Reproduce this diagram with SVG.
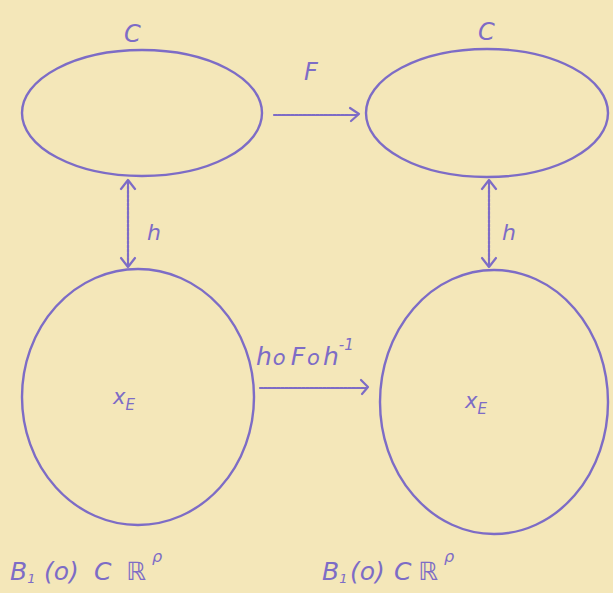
<svg xmlns="http://www.w3.org/2000/svg" width="613" height="593" viewBox="0 0 613 593">
<style>
.s{fill:none;stroke:#7d6cc6;stroke-width:2.4;stroke-linecap:round;stroke-linejoin:round}
.a{fill:none;stroke:#7d6cc6;stroke-width:2.2;stroke-dasharray:3 1.2;stroke-linecap:round}
.h{fill:none;stroke:#7d6cc6;stroke-width:2.2;stroke-linecap:round;stroke-linejoin:round}
text{fill:#7d6cc6;font-family:"DejaVu Sans",sans-serif;font-style:italic}
</style>
<rect width="613" height="593" fill="#f4e7b9"/>
<g id="C1"><ellipse class="s" cx="142" cy="113" rx="120" ry="63"/><text x="124" y="42" font-size="24">C</text></g>
<g id="C2"><ellipse class="s" cx="487" cy="113" rx="121" ry="64"/><text x="478" y="40" font-size="24">C</text></g>
<g id="B1"><ellipse class="s" cx="138" cy="397" rx="116" ry="128"/><text x="113" y="404" font-size="21">x<tspan font-size="15" dy="6">E</tspan></text></g>
<g id="B2"><ellipse class="s" cx="494" cy="402" rx="114" ry="132"/><text x="465" y="408" font-size="21">x<tspan font-size="15" dy="6">E</tspan></text></g>
<g id="connectors">
<line class="a" x1="274" y1="115" x2="358" y2="115"/><path class="h" d="M350 108 L359 114 L351 121"/>
<text x="304" y="80" font-size="24">F</text>
<line class="a" x1="128" y1="182" x2="128" y2="265"/><path class="h" d="M121 189 L128 180 L135 189 M121 258 L128 267 L135 258"/>
<text x="147" y="240" font-size="22">h</text>
<line class="a" x1="489" y1="182" x2="489" y2="265"/><path class="h" d="M482 189 L489 180 L496 189 M482 258 L489 267 L496 258"/>
<text x="502" y="240" font-size="22">h</text>
<line class="a" x1="260" y1="388" x2="366" y2="388"/><path class="h" d="M361 380 L368 387 L362 394"/>
<text x="256" y="365" font-size="25">h<tspan dx="1" font-size="21">o</tspan><tspan dx="5">F</tspan><tspan dx="2" font-size="21">o</tspan><tspan dx="3">h</tspan><tspan font-size="15" dy="-15">-1</tspan></text>
</g>
<text x="10" y="580" font-size="25">B<tspan font-size="13" dy="3">1</tspan><tspan dy="-3" x="44">(o)</tspan><tspan x="94">C</tspan><tspan x="126">ℝ</tspan><tspan font-size="16" dy="-18" x="152">ρ</tspan></text>
<text x="322" y="580" font-size="25">B<tspan font-size="13" dy="3">1</tspan><tspan dy="-3" x="350">(o)</tspan><tspan x="394">C</tspan><tspan x="418">ℝ</tspan><tspan font-size="16" dy="-18" x="444">ρ</tspan></text>
</svg>
